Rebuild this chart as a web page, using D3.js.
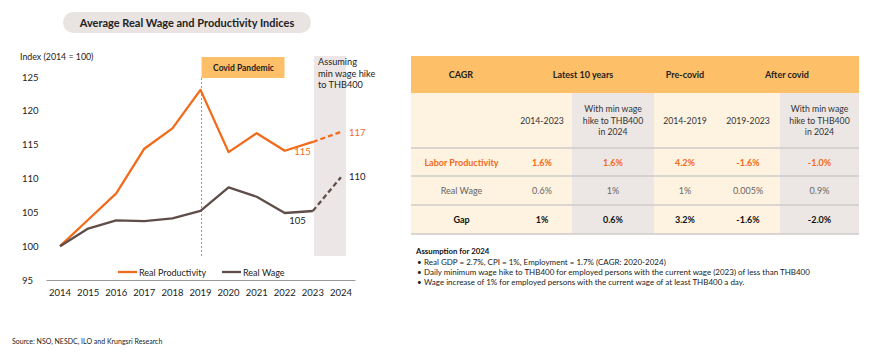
<!DOCTYPE html>
<html><head><meta charset="utf-8">
<script src="https://cdn.jsdelivr.net/npm/d3@7"></script>
<style>
body{margin:0;background:#fff;}
svg{font-family:Lato,"Open Sans",sans-serif;}
</style></head>
<body><svg id="c" width="870" height="361"></svg>
<script>
const years = [2014,2015,2016,2017,2018,2019,2020,2021,2022,2023,2024];
const productivity = [100,103.9,107.8,114.4,117.4,123.1,113.9,116.7,114.1,115.4,116.9];
const realWage = [100,102.6,103.8,103.7,104.1,105.2,108.7,107.3,104.9,105.2,110.2];
const yTicks = [95,100,105,110,115,120,125];
const endLabels = {prod2023:"115", prod2024:"117", wage2023:"105", wage2024:"110"};

const tableHeader = ["CAGR","Latest 10 years","Pre-covid","After covid"];
const tableSub = ["","2014-2023","With min wage\nhike to THB400\nin 2024","2014-2019","2019-2023","With min wage\nhike to THB400\nin 2024"];
const rowNames = ["Labor Productivity","Real Wage","Gap"];
const rowLabor = ["1.6%","1.6%","4.2%","-1.6%","-1.0%"];
const rowWage = ["0.6%","1%","1%","0.005%","0.9%"];
const rowGap = ["1%","0.6%","3.2%","-1.6%","-2.0%"];
const assumptionTitle = "Assumption for 2024";
const assumptions = ["Real GDP = 2.7%, CPI = 1%, Employment = 1.7% (CAGR: 2020-2024)",
 "Daily minimum wage hike to THB400 for employed persons with the current wage (2023) of less than THB400",
 "Wage increase of 1% for employed persons with the current wage of at least THB400 a day."];

const ORANGE="#F26A1B", WAGE="#5F4D49";
const svg = d3.select("#c");

// Title pill
svg.append("rect").attr("x",63).attr("y",12).attr("width",248).attr("height",21).attr("rx",10.5).attr("fill","#E9E3E2");
svg.append("text").attr("x",187).attr("y",26.5).attr("text-anchor","middle").attr("font-size",11).attr("font-weight","bold").attr("fill","#222").text("Average Real Wage and Productivity Indices");

svg.append("text").attr("x",20).attr("y",60).attr("font-size",8.8).attr("fill","#222").text("Index (2014 = 100)");

const x = d3.scaleBand().domain(years).range([46,355]);
const cx = d => x(d)+x.bandwidth()/2;
const y = d3.scaleLinear().domain([95,125]).range([280,77]);

// shaded projection area
svg.append("rect").attr("x",cx(2023)+1).attr("y",56).attr("width",cx(2024)-cx(2023)+4).attr("height",200).attr("fill","#ECE7E6");
svg.append("text").attr("font-size",9.2).attr("fill","#222").selectAll("tspan").data(["Assuming","min wage hike","to THB400"]).join("tspan")
  .attr("x",318).attr("y",(d,i)=>65+i*11.5).text(d=>d);

// covid box and dotted line
svg.append("rect").attr("x",cx(2019)+1).attr("y",57).attr("width",83).attr("height",21).attr("fill","#FDC068");
svg.append("text").attr("x",cx(2019)+43).attr("y",71).attr("text-anchor","middle").attr("font-size",8.5).attr("font-weight","bold").attr("fill","#222").text("Covid Pandemic");
svg.append("line").attr("x1",cx(2019)+1).attr("x2",cx(2019)+1).attr("y1",78).attr("y2",256).attr("stroke","#999").attr("stroke-dasharray","2,2").attr("stroke-width",1);

// y ticks
svg.append("g").selectAll("text").data(yTicks).join("text").attr("x",22).attr("y",d=>y(d)+3.5).attr("font-size",9.5).attr("fill","#222").text(d=>d);
// x axis
const xa = svg.append("g").attr("transform","translate(0,280)").call(d3.axisBottom(x).tickSize(0).tickPadding(9));
xa.select(".domain").attr("stroke","#999").attr("stroke-width",1);
xa.selectAll("text").attr("font-size",9.5).attr("fill","#222").attr("font-family","Lato,sans-serif");

const line = d3.line().x((d,i)=>cx(years[i])).y(d=>y(d));
function drawSeries(vals,color){
  const solid = vals.slice(0,10);
  svg.append("path").attr("d",line(solid)).attr("fill","none").attr("stroke",color).attr("stroke-width",2.3).attr("stroke-linejoin","round");
  const dl = d3.line().x(d=>cx(d[0])).y(d=>y(d[1]));
  svg.append("path").attr("d",dl([[2023,vals[9]],[2024,vals[10]]])).attr("fill","none").attr("stroke",color).attr("stroke-width",2.3).attr("stroke-dasharray","5,3");
}
drawSeries(productivity,ORANGE);
drawSeries(realWage,WAGE);

svg.append("text").attr("x",cx(2024)+8).attr("y",y(productivity[10])+4).attr("font-size",9.5).attr("fill",ORANGE).text(endLabels.prod2024);
svg.append("text").attr("x",cx(2023)-2).attr("y",y(productivity[9])+13).attr("text-anchor","end").attr("font-size",9.5).attr("fill",ORANGE).text(endLabels.prod2023);
svg.append("text").attr("x",cx(2024)+8).attr("y",y(realWage[10])+3).attr("font-size",9.5).attr("fill","#222").text(endLabels.wage2024);
svg.append("text").attr("x",cx(2023)-7).attr("y",y(realWage[9])+13).attr("text-anchor","end").attr("font-size",9.5).attr("fill","#222").text(endLabels.wage2023);

// legend
const leg = [{n:"Real Productivity",c:ORANGE,x:118},{n:"Real Wage",c:WAGE,x:222}];
leg.forEach(l=>{
  svg.append("line").attr("x1",l.x).attr("x2",l.x+19).attr("y1",272).attr("y2",272).attr("stroke",l.c).attr("stroke-width",2.3);
  svg.append("text").attr("x",l.x+21).attr("y",275.5).attr("font-size",9).attr("fill","#222").text(l.n);
});

svg.append("text").attr("x",12).attr("y",344).attr("font-size",7).attr("fill","#222").text("Source: NSO, NESDC, ILO and Krungsri Research");

// TABLE
const colEdges = [411,512,572,654,716,780,859];
const rowEdges = [56,93,148,176,205,234];
const CREAM="#FEF2E0", GRAY="#ECE7E5";
svg.append("rect").attr("x",411).attr("y",56).attr("width",448).attr("height",37).attr("fill","#FDC068");
for(let c=0;c<6;c++){
  const isGray = (c===2||c===5);
  svg.append("rect").attr("x",colEdges[c]).attr("y",93).attr("width",colEdges[c+1]-colEdges[c]).attr("height",234-93).attr("fill",isGray?GRAY:CREAM);
}
[148,176,205,234].forEach(r=>svg.append("line").attr("x1",411).attr("x2",859).attr("y1",r).attr("y2",r).attr("stroke","#CFCBCA").attr("stroke-width",1.5));

const hdrX = [461,583,685,787];
tableHeader.forEach((t,i)=>svg.append("text").attr("x",hdrX[i]).attr("y",78).attr("text-anchor","middle").attr("font-size",9).attr("font-weight","bold").attr("fill","#222").text(t));
const ccx = c=>(colEdges[c]+colEdges[c+1])/2;
tableSub.forEach((t,i)=>{
  if(!t) return;
  const lines = t.split("\n");
  const t0 = svg.append("text").attr("text-anchor","middle").attr("font-size",8.7).attr("fill","#333");
  lines.forEach((l,j)=>t0.append("tspan").attr("x",ccx(i)).attr("y",123.5+(j-(lines.length-1)/2)*11.5).text(l));
});
const rows = [{name:rowNames[0],vals:rowLabor,color:ORANGE,bold:true},
              {name:rowNames[1],vals:rowWage,color:"#666",bold:false},
              {name:rowNames[2],vals:rowGap,color:"#111",bold:true}];
rows.forEach((r,ri)=>{
  const cy=(rowEdges[ri+2]+rowEdges[ri+3])/2+3.5;
  svg.append("text").attr("x",ccx(0)).attr("y",cy).attr("text-anchor","middle").attr("font-size",9).attr("font-weight",r.bold?"bold":"normal").attr("fill",r.color).text(r.name);
  r.vals.forEach((v,vi)=>svg.append("text").attr("x",ccx(vi+1)).attr("y",cy).attr("text-anchor","middle").attr("font-size",9).attr("font-weight",r.bold?"bold":"normal").attr("fill",r.color).text(v));
});

svg.append("text").attr("x",416).attr("y",254).attr("font-size",7.8).attr("font-weight","bold").attr("fill","#111").text(assumptionTitle);
assumptions.forEach((a,i)=>{
  svg.append("text").attr("x",417).attr("y",264.5+i*10.3).attr("font-size",8).attr("fill","#222").text("•");
  svg.append("text").attr("x",424).attr("y",264.5+i*10.3).attr("font-size",8).attr("fill","#222").text(a);
});
</script></body></html>
